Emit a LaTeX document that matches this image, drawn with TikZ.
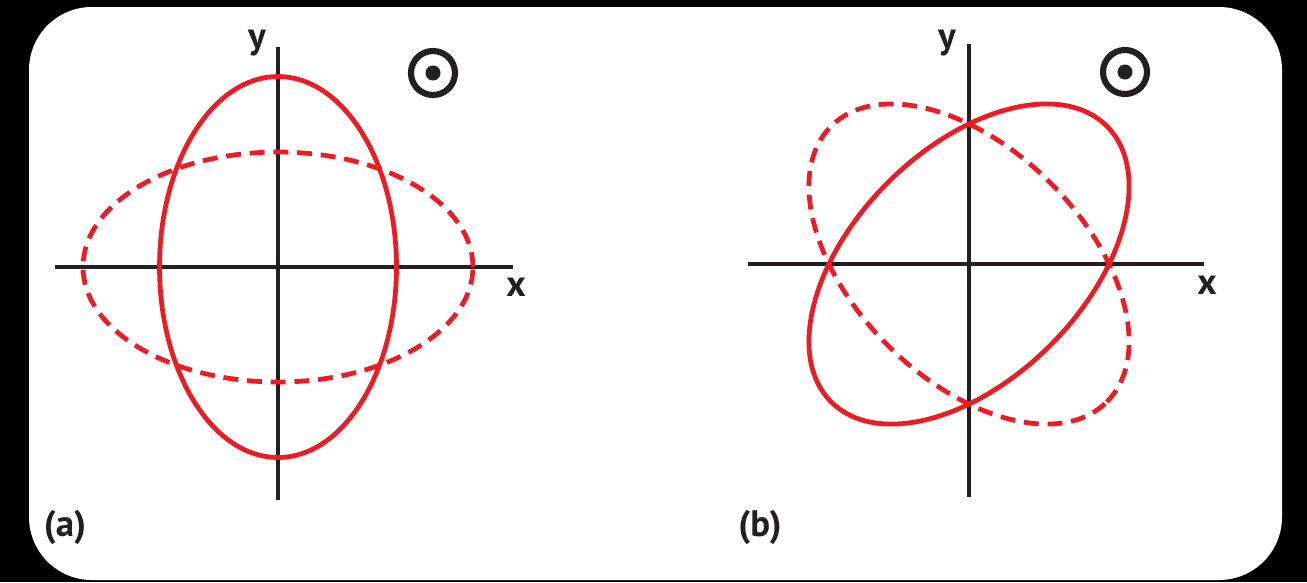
\documentclass[tikz,border=0pt]{standalone}
\usepackage{fontspec}
\setmainfont{PT Sans}
\definecolor{ered}{RGB}{237,28,36}
\definecolor{axis}{RGB}{35,31,32}
\begin{document}
\begin{tikzpicture}[x=0.02cm,y=-0.02cm,
  axisline/.style={draw=axis,line width=1.9pt},
  solidell/.style={draw=ered,line width=2.7pt},
  dashell/.style={draw=ered,line width=2.7pt,dash pattern=on 8.5pt off 5pt},
  lbl/.style={font=\bfseries\fontsize{21}{24}\selectfont,text=axis,inner sep=0pt},
  dotsym/.style={circle,draw=axis,line width=3.5pt,minimum size=44*0.02cm,inner sep=0pt}]
\fill[black] (0,0) rectangle (1307,582);
\useasboundingbox (0,0) rectangle (1307,582);
\fill[white,rounded corners=1.26cm] (29,7) rectangle (1282,580);
% ---- panel (a)
\coordinate (ao) at (278,267);
\coordinate (axl) at (55,267);
\coordinate (axr) at (513,267);
\coordinate (ayt) at (278,47);
\coordinate (ayb) at (278,500);
\draw[axisline] (axl) -- (axr);
\draw[axisline] (ayt) -- (ayb);
\draw[dashell] (ao) ellipse [x radius=3.9cm, y radius=2.3cm];
\draw[solidell] (ao) ellipse [x radius=2.37cm, y radius=3.81cm];
\node[lbl] (ay) at (257,43) {y};
\node[lbl] (ax) at (516,287) {x};
\node[dotsym] (adot) at (433,73) {};
\fill[axis] (adot.center) circle (0.15cm);
\node[lbl] (alab) at (65,527) {(a)};
% ---- panel (b)
\coordinate (bo) at (969,264);
\coordinate (bxl) at (748,264);
\coordinate (bxr) at (1204,264);
\coordinate (byt) at (969,44);
\coordinate (byb) at (969,497);
\draw[axisline] (bxl) -- (bxr);
\draw[axisline] (byt) -- (byb);
\draw[dashell,rotate around={-45:(bo)}] (bo) ellipse [x radius=3.9cm, y radius=2.3cm];
\draw[solidell,rotate around={45:(bo)}] (bo) ellipse [x radius=3.9cm, y radius=2.3cm];
\node[lbl] (by) at (947,43) {y};
\node[lbl] (bx) at (1207,285) {x};
\node[dotsym] (bdot) at (1125,72) {};
\fill[axis] (bdot.center) circle (0.15cm);
\node[lbl] (blab) at (760,527) {(b)};
\end{tikzpicture}
\end{document}
